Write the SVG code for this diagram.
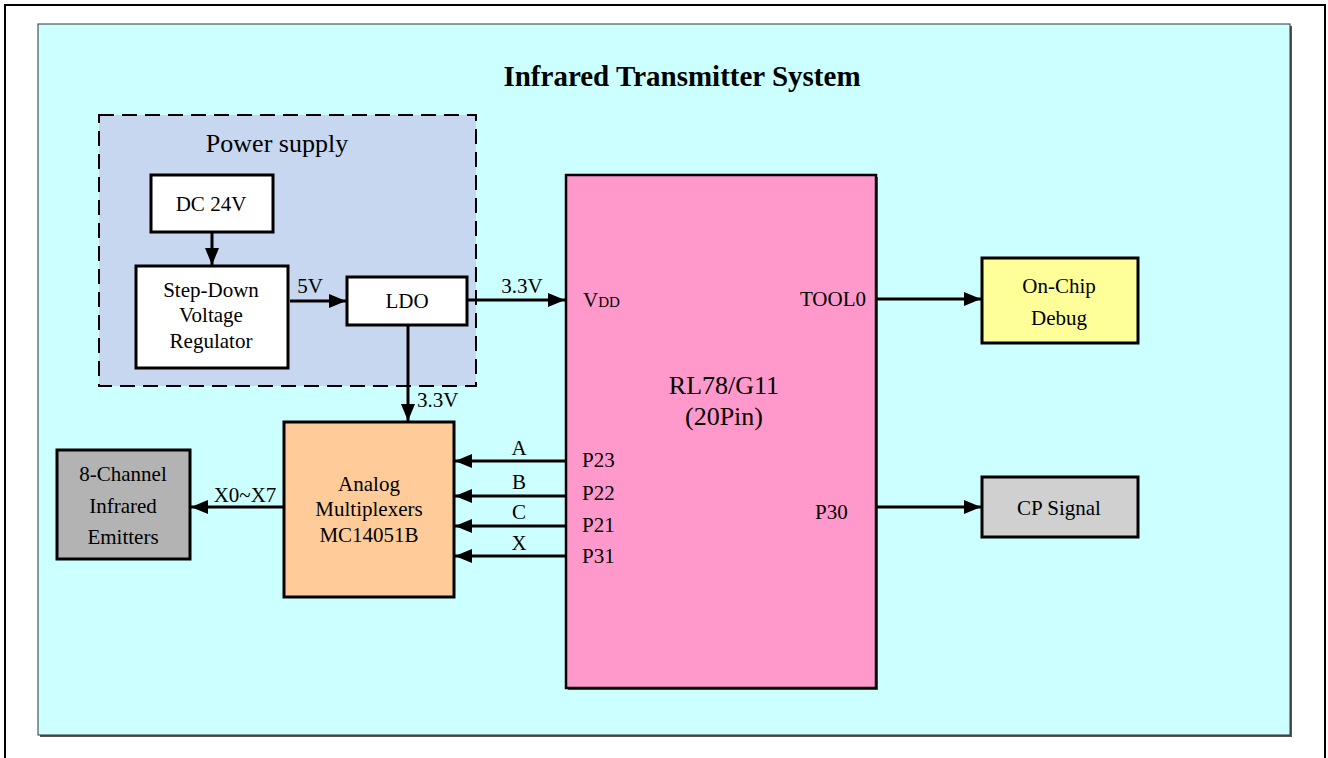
<svg xmlns="http://www.w3.org/2000/svg" width="1328" height="758" viewBox="0 0 1328 758">
<style>
  text { font-family: "Liberation Serif", "Times New Roman", serif; fill: #000; }
  .t21 { font-size: 21px; }
  .mid { text-anchor: middle; }
  .box { stroke: #000; stroke-width: 3; }
  .wire { stroke: #000; stroke-width: 3; fill: none; marker-end: url(#arr); }
</style>
<defs>
  <marker id="arr" markerUnits="userSpaceOnUse" markerWidth="18" markerHeight="14" refX="17" refY="7" orient="auto">
    <path d="M0,0 L17,7 L0,14 Z" fill="#000"/>
  </marker>
</defs>
<rect x="0" y="0" width="1328" height="758" fill="#fff"/>
<rect id="frame" x="5" y="5" width="1320" height="760" fill="none" stroke="#000" stroke-width="2"/>
<g id="system">
  <rect x="40" y="26" width="1252" height="711" fill="#555"/>
  <rect x="38" y="24" width="1252" height="711" fill="#ccffff" stroke="#333" stroke-width="1"/>
  <text x="682" y="86" class="mid" style="font-size:29px;font-weight:bold">Infrared Transmitter System</text>
</g>
<g id="power-supply">
  <rect x="99" y="115" width="377" height="271" fill="#c6d7ef" stroke="#000" stroke-width="2" stroke-dasharray="15,8"/>
  <text x="277" y="152" class="mid" style="font-size:26px">Power supply</text>
</g>
<g id="dc24v">
  <rect x="151" y="175" width="122" height="57" fill="#fff" class="box"/>
  <text x="211" y="211" class="t21 mid">DC 24V</text>
</g>
<g id="stepdown">
  <rect x="136" y="266" width="152" height="102" fill="#fff" class="box"/>
  <text x="211" y="297" class="t21 mid">Step-Down</text>
  <text x="211" y="322" class="t21 mid">Voltage</text>
  <text x="211" y="348" class="t21 mid">Regulator</text>
</g>
<g id="ldo">
  <rect x="347" y="277" width="120" height="48" fill="#fff" class="box"/>
  <text x="407" y="308" class="t21 mid">LDO</text>
</g>
<g id="mcu">
  <rect x="568" y="177" width="310" height="513" fill="#555"/>
  <rect x="566" y="175" width="310" height="513" fill="#ff99cc" stroke="#000" stroke-width="2.5"/>
  <text x="583" y="307" class="t21">V<tspan style="font-size:15px">DD</tspan></text>
  <text x="866" y="306" class="t21" text-anchor="end">TOOL0</text>
  <text x="724" y="394" class="mid" style="font-size:26px">RL78/G11</text>
  <text x="724" y="425" class="mid" style="font-size:26px">(20Pin)</text>
  <text x="582" y="467" class="t21">P23</text>
  <text x="582" y="500" class="t21">P22</text>
  <text x="582" y="532" class="t21">P21</text>
  <text x="582" y="563" class="t21">P31</text>
  <text x="815" y="519" class="t21">P30</text>
</g>
<g id="mux">
  <rect x="284" y="422" width="170" height="175" fill="#ffcc99" class="box"/>
  <text x="369" y="491" class="t21 mid">Analog</text>
  <text x="369" y="516" class="t21 mid">Multiplexers</text>
  <text x="369" y="542" class="t21 mid">MC14051B</text>
</g>
<g id="emitters">
  <rect x="57" y="450" width="133" height="109" fill="#b3b3b3" class="box"/>
  <text x="123" y="481" class="t21 mid">8-Channel</text>
  <text x="123" y="513" class="t21 mid">Infrared</text>
  <text x="123" y="544" class="t21 mid">Emitters</text>
</g>
<g id="onchip">
  <rect x="982" y="258" width="156" height="85" fill="#ffff99" class="box"/>
  <text x="1059" y="293" class="t21 mid">On-Chip</text>
  <text x="1059" y="325" class="t21 mid">Debug</text>
</g>
<g id="cpsignal">
  <rect x="982" y="477" width="156" height="60" fill="#d0d0d0" class="box"/>
  <text x="1059" y="515" class="t21 mid">CP Signal</text>
</g>
<g id="connectors">
  <line x1="212" y1="233" x2="212" y2="265" class="wire"/>
  <line x1="290" y1="301" x2="346" y2="301" class="wire"/>
  <text x="310" y="293" class="t21 mid">5V</text>
  <line x1="468" y1="300" x2="565" y2="300" class="wire"/>
  <text x="522" y="293" class="t21 mid">3.3V</text>
  <line x1="408" y1="326" x2="408" y2="421" class="wire"/>
  <text x="417" y="407" class="t21">3.3V</text>
  <line x1="566" y1="461" x2="455" y2="461" class="wire"/>
  <text x="519" y="455" class="t21 mid">A</text>
  <line x1="566" y1="496" x2="455" y2="496" class="wire"/>
  <text x="519" y="489" class="t21 mid">B</text>
  <line x1="566" y1="526" x2="455" y2="526" class="wire"/>
  <text x="519" y="519" class="t21 mid">C</text>
  <line x1="566" y1="556" x2="455" y2="556" class="wire"/>
  <text x="519" y="550" class="t21 mid">X</text>
  <line x1="283" y1="507" x2="191" y2="507" class="wire"/>
  <text x="245" y="502" class="t21 mid">X0~X7</text>
  <line x1="877" y1="299" x2="981" y2="299" class="wire"/>
  <line x1="877" y1="507" x2="981" y2="507" class="wire"/>
</g>
</svg>
